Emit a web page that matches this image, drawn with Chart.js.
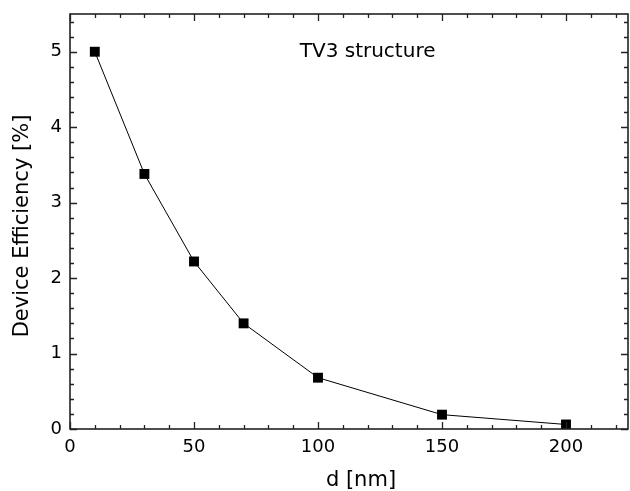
<!DOCTYPE html>
<html lang="en">
<head>
  <meta charset="UTF-8" />
  <title>TV3 structure</title>
  <script src="https://cdn.jsdelivr.net/npm/chart.js"></script>
  <style>
    body { margin: 0; padding: 0; background: #fff; }
    canvas { display: block; }
  </style>
</head>
<body>
  <canvas id="chart" width="630" height="491"></canvas>

  <script>
    // data
    const thickness = [10, 30, 50, 70, 100, 150, 200];
    const efficiency = [5.0, 3.38, 2.22, 1.4, 0.68, 0.19, 0.06];
    const xLabel = 'd [nm]';
    const yLabel = 'Device Efficiency [%]';
    const note = 'TV3 structure';

    const FONT = "'DejaVu Sans', Verdana, sans-serif";

    // box frame with inward ticks on all four sides, axis titles and the note
    const frame = {
      id: 'frame',
      afterDraw(chart) {
        const { ctx, chartArea: a, scales: { x, y } } = chart;
        ctx.save();
        ctx.strokeStyle = '#222';
        ctx.lineWidth = 1.6;
        ctx.strokeRect(a.left, a.top, a.right - a.left, a.bottom - a.top);
        ctx.lineWidth = 1.3;
        ctx.beginPath();
        for (let v = x.min; v <= x.max + 1e-6; v += 10) {
          const px = Math.round(x.getPixelForValue(v)) + 0.5;
          const len = v % 50 === 0 ? 7 : 4;
          ctx.moveTo(px, a.bottom); ctx.lineTo(px, a.bottom - len);
          ctx.moveTo(px, a.top); ctx.lineTo(px, a.top + len);
        }
        for (let i = 0; i <= 27; i++) {
          const v = i * 0.2;
          const py = Math.round(y.getPixelForValue(v)) + 0.5;
          const len = i % 5 === 0 ? 7 : 4;
          ctx.moveTo(a.left, py); ctx.lineTo(a.left + len, py);
          ctx.moveTo(a.right, py); ctx.lineTo(a.right - len, py);
        }
        ctx.stroke();

        ctx.fillStyle = '#000';
        ctx.textAlign = 'center';
        ctx.font = '20px ' + FONT;
        ctx.textBaseline = 'middle';
        ctx.fillText(note, x.getPixelForValue(120), y.getPixelForValue(5.0));

        ctx.font = '21px ' + FONT;
        ctx.textBaseline = 'alphabetic';
        ctx.fillText(xLabel, 361, 486);
        ctx.translate(28, 226);
        ctx.rotate(-Math.PI / 2);
        ctx.fillText(yLabel, 0, 0);
        ctx.restore();
      }
    };

    function noPad(s) {
      s.paddingTop = s.paddingBottom = s.paddingLeft = s.paddingRight = 0;
    }

    new Chart(document.getElementById('chart'), {
      type: 'line',
      data: {
        datasets: [{
          data: thickness.map((d, i) => ({ x: d, y: efficiency[i] })),
          borderColor: '#000',
          borderWidth: 1,
          pointStyle: 'rect',
          pointRadius: 7,
          pointBackgroundColor: '#000',
          pointBorderWidth: 0,
          tension: 0
        }]
      },
      options: {
        responsive: false,
        animation: false,
        layout: { autoPadding: false, padding: { top: 14, right: 2, left: 0, bottom: 0 } },
        plugins: { legend: { display: false }, tooltip: { enabled: false } },
        scales: {
          x: {
            type: 'linear',
            min: 0, max: 225,
            grid: { display: false, drawTicks: false },
            border: { display: false },
            ticks: {
              stepSize: 50, padding: 8, color: '#000',
              font: { family: FONT, size: 18 },
              callback: v => (v % 50 === 0 && v <= 200 ? v : '')
            },
            afterFit(s) { s.height = 62; noPad(s); }
          },
          y: {
            min: 0, max: 5.5,
            grid: { display: false, drawTicks: false },
            border: { display: false },
            ticks: {
              stepSize: 1, padding: 8, color: '#000',
              font: { family: FONT, size: 18 },
              callback: v => (Number.isInteger(v) ? v : '')
            },
            afterFit(s) { s.width = 70; noPad(s); }
          }
        }
      },
      plugins: [frame]
    });
  </script>
</body>
</html>
